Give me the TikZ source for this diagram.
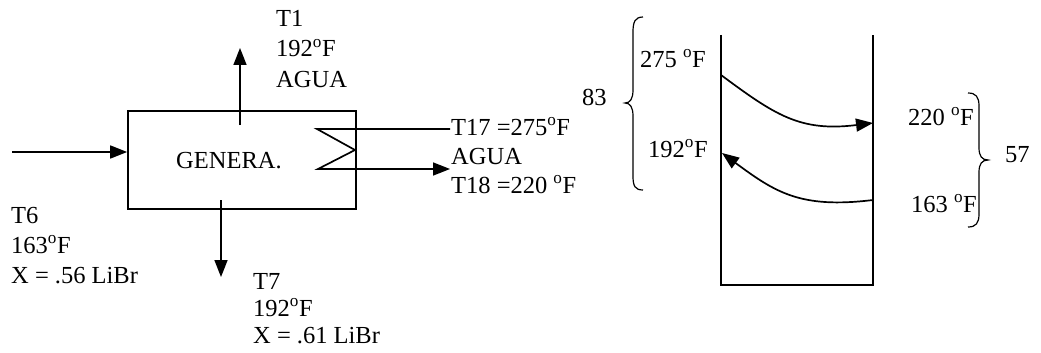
\documentclass[tikz,border=0pt]{standalone}
\usepackage{fontspec}
\setmainfont{Liberation Serif}
\usetikzlibrary{arrows.meta}
\tikzset{
  txt/.style={font=\fontsize{24.5}{29}\selectfont, inner sep=0pt, anchor=base west},
  ln/.style={line width=1.7pt},
  arr/.style={ln, -{Triangle[length=17pt,width=13pt]}},
  bracepath/.style={line width=1.2pt},
  boxshape/.style={draw, ln, minimum width=228pt, minimum height=98pt, inner sep=0pt}
}
\newcommand{\dg}{\textsuperscript{o}}
\begin{document}
\begin{tikzpicture}[x=1pt,y=-1pt]
\useasboundingbox (0,0) rectangle (1041,353);
% generator box
\node[boxshape] (gen) at (242,160) {};
\node[txt] (genlbl) at (176,168) {GENERA.};
% input
\coordinate (inS) at (12,152);
\draw[arr] (inS) -- (inS -| gen.west);
% up arrow
\coordinate (upS) at (240,125);
\coordinate (upE) at (240,48);
\draw[arr] (upS) -- (upE);
% down arrow
\coordinate (dnS) at (221,200);
\coordinate (dnE) at (221,277);
\draw[arr] (dnS) -- (dnE);
% coil
\coordinate (z1) at (317,129);
\coordinate (z2) at (355,150);
\coordinate (z3) at (318,169);
\coordinate (o1) at (450,129);
\coordinate (o2) at (450,169);
\draw[arr] (o1) -- (z1) -- (z2) -- (z3) -- (o2);
% labels
\node[txt] (t1a) at (276,27) {T1};
\node[txt] (t1b) at (276,57) {192\dg F};
\node[txt] (t1c) at (276,87) {AGUA};
\node[txt] (t6a) at (11,223) {T6};
\node[txt] (t6b) at (11,253) {163\dg F};
\node[txt] (t6c) at (11,283) {X = .56 LiBr};
\node[txt] (t7a) at (253,289) {T7};
\node[txt] (t7b) at (253,316) {192\dg F};
\node[txt] (t7c) at (253,343) {X = .61 LiBr};
\node[txt] (t17) at (451,135) {T17 =275\dg F};
\node[txt] (agua2) at (451,164) {AGUA};
\node[txt] (t18) at (451,193) {T18 =220 \dg F};
% right diagram
\coordinate (rTL) at (721,35);
\coordinate (rBL) at (721,285);
\coordinate (rBR) at (873,285);
\coordinate (rTR) at (873,35);
\draw[ln] (rTL) -- (rBL) -- (rBR) -- (rTR);
\coordinate (c1s) at (721,75);
\coordinate (c1e) at (873,123);
\draw[arr] (c1s) .. controls (775,115) and (800,132) .. (c1e);
\coordinate (c2s) at (873,200);
\coordinate (c2e) at (722,153);
\draw[arr] (c2s) .. controls (800,209) and (775,192) .. (c2e);
% left brace
\draw[bracepath] (643,17) .. controls (635,17) and (633,22) .. (633,32) -- (633,90)
   .. controls (633,99) and (630,103) .. (625,103)
   .. controls (630,103) and (633,107) .. (633,116) -- (633,176)
   .. controls (633,186) and (635,190) .. (643,190);
% right brace
\draw[bracepath] (968,93) .. controls (976,93) and (979,97) .. (979,106) -- (979,148)
   .. controls (979,156) and (982,160) .. (988,160)
   .. controls (982,160) and (979,164) .. (979,172) -- (979,214)
   .. controls (979,223) and (976,227) .. (968,227);
\node[txt] (n83) at (582,105) {83};
\node[txt] (n57) at (1005,162) {57};
\node[txt] (r275) at (640,67) {275 \dg F};
\node[txt] (r192) at (648,157) {192\dg F};
\node[txt] (r220) at (908,125) {220 \dg F};
\node[txt] (r163) at (911,212) {163 \dg F};
\end{tikzpicture}
\end{document}
